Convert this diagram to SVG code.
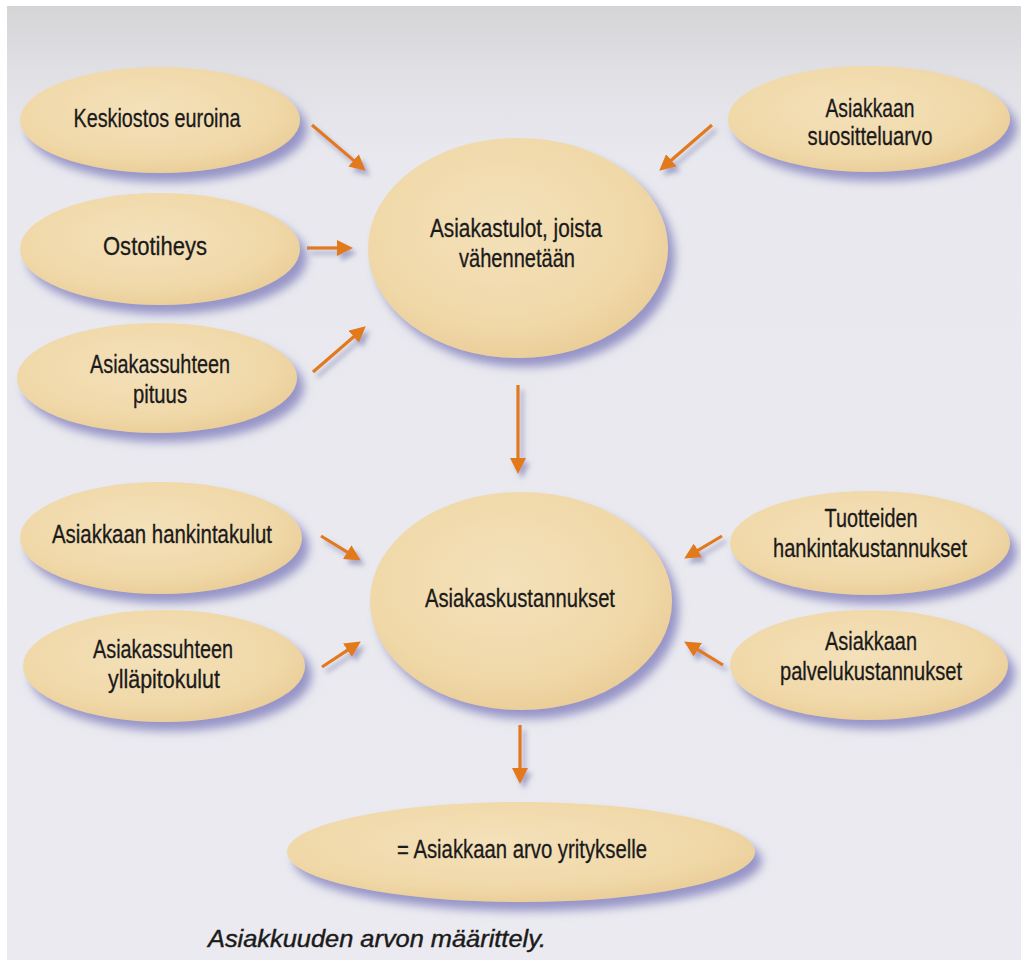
<svg xmlns="http://www.w3.org/2000/svg" width="1021" height="960" viewBox="0 0 1021 960">
  <defs>
    <linearGradient id="bg" x1="0" y1="0" x2="0" y2="1">
      <stop offset="0" stop-color="#d4d4d6"/>
      <stop offset="0.07" stop-color="#dfdfe4"/>
      <stop offset="0.16" stop-color="#e8e8ee"/>
      <stop offset="1" stop-color="#eaeaf0"/>
    </linearGradient>
    <radialGradient id="egg" cx="0.45" cy="0.4" r="0.65">
      <stop offset="0" stop-color="#f4e1ba"/>
      <stop offset="0.7" stop-color="#f0d8a8"/>
      <stop offset="1" stop-color="#e9cc96"/>
    </radialGradient>
    <filter id="shadow" x="-20%" y="-30%" width="145%" height="170%">
      <feDropShadow dx="7" dy="9" stdDeviation="5" flood-color="#8280bd" flood-opacity="0.8"/>
    </filter>
    <filter id="ashadow" x="-50%" y="-50%" width="200%" height="200%">
      <feDropShadow dx="4" dy="5" stdDeviation="2.5" flood-color="#7d7bb0" flood-opacity="0.6"/>
    </filter>
    <marker id="head" markerUnits="userSpaceOnUse" markerWidth="17" markerHeight="17" refX="2" refY="8" orient="auto">
      <path d="M0,0 L16,8 L0,16 z" fill="#e27a1c"/>
    </marker>
    <style>
      .node ellipse { fill: url(#egg); filter: url(#shadow); }
      .node text { font-family: "Liberation Sans Narrow", "Liberation Sans", Arial, sans-serif; font-size: 25px; fill: #1b1a1a; stroke: #1b1a1a; stroke-width: 0.3; text-anchor: middle; }
      .conn line { stroke: #e27a1c; stroke-width: 3.2; marker-end: url(#head); }
      .caption { font-family: "Liberation Sans", Arial, sans-serif; font-style: italic; font-size: 23px; fill: #1b1a1a; stroke: #1b1a1a; stroke-width: 0.4; }
    </style>
  </defs>

  <rect x="0" y="0" width="1021" height="960" fill="url(#bg)"/>
  <rect x="0" y="0" width="1021" height="6" fill="#ffffff"/>
  <rect x="0" y="0" width="7" height="960" fill="#ffffff"/>

  <g id="connectors" class="conn" filter="url(#ashadow)">
    <line x1="312" y1="125" x2="355.1" y2="161.6"/>
    <line x1="307" y1="248" x2="339" y2="248"/>
    <line x1="313" y1="372" x2="355.2" y2="335.5"/>
    <line x1="712" y1="125" x2="669.8" y2="161.5"/>
    <line x1="518" y1="385" x2="518" y2="460"/>
    <line x1="321" y1="536" x2="348.9" y2="553.2"/>
    <line x1="322" y1="667" x2="349.1" y2="649.1"/>
    <line x1="722" y1="536" x2="696.2" y2="551.4"/>
    <line x1="723" y1="665" x2="696.1" y2="648.7"/>
    <line x1="520" y1="725" x2="520" y2="770"/>
  </g>

  <g id="keskiostos" class="node">
    <ellipse cx="160" cy="120" rx="140" ry="53"/>
    <text x="157" y="127" textLength="167" lengthAdjust="spacingAndGlyphs">Keskiostos euroina</text>
  </g>
  <g id="ostotiheys" class="node">
    <ellipse cx="160" cy="249" rx="140" ry="56"/>
    <text x="155" y="255" textLength="104" lengthAdjust="spacingAndGlyphs">Ostotiheys</text>
  </g>
  <g id="pituus" class="node">
    <ellipse cx="157" cy="378" rx="140" ry="55"/>
    <text x="160" y="373" textLength="140" lengthAdjust="spacingAndGlyphs">Asiakassuhteen</text>
    <text x="160" y="403" textLength="54" lengthAdjust="spacingAndGlyphs">pituus</text>
  </g>
  <g id="asiakastulot" class="node">
    <ellipse cx="518" cy="248" rx="150" ry="110"/>
    <text x="516" y="237" textLength="172" lengthAdjust="spacingAndGlyphs">Asiakastulot, joista</text>
    <text x="517" y="267" textLength="116" lengthAdjust="spacingAndGlyphs">vähennetään</text>
  </g>
  <g id="suositteluarvo" class="node">
    <ellipse cx="869" cy="119" rx="141" ry="53"/>
    <text x="870" y="117" textLength="89" lengthAdjust="spacingAndGlyphs">Asiakkaan</text>
    <text x="870" y="145" textLength="125" lengthAdjust="spacingAndGlyphs">suositteluarvo</text>
  </g>
  <g id="hankintakulut" class="node">
    <ellipse cx="161" cy="538" rx="141" ry="56"/>
    <text x="162" y="543" textLength="220" lengthAdjust="spacingAndGlyphs">Asiakkaan hankintakulut</text>
  </g>
  <g id="yllapitokulut" class="node">
    <ellipse cx="164" cy="666" rx="141" ry="56"/>
    <text x="163" y="658" textLength="140" lengthAdjust="spacingAndGlyphs">Asiakassuhteen</text>
    <text x="164" y="688" textLength="112" lengthAdjust="spacingAndGlyphs">ylläpitokulut</text>
  </g>
  <g id="asiakaskustannukset" class="node">
    <ellipse cx="521" cy="601" rx="151" ry="109"/>
    <text x="520" y="607" textLength="190" lengthAdjust="spacingAndGlyphs">Asiakaskustannukset</text>
  </g>
  <g id="tuotteiden" class="node">
    <ellipse cx="870" cy="543" rx="140" ry="52"/>
    <text x="871" y="527" textLength="93" lengthAdjust="spacingAndGlyphs">Tuotteiden</text>
    <text x="870" y="557" textLength="194" lengthAdjust="spacingAndGlyphs">hankintakustannukset</text>
  </g>
  <g id="palvelukustannukset" class="node">
    <ellipse cx="869" cy="665" rx="139" ry="55"/>
    <text x="871" y="650" textLength="92" lengthAdjust="spacingAndGlyphs">Asiakkaan</text>
    <text x="871" y="680" textLength="182" lengthAdjust="spacingAndGlyphs">palvelukustannukset</text>
  </g>
  <g id="arvo" class="node">
    <ellipse cx="521" cy="852" rx="234" ry="50"/>
    <text x="522" y="858" textLength="250" lengthAdjust="spacingAndGlyphs">= Asiakkaan arvo yritykselle</text>
  </g>

  <text class="caption" x="208" y="947" textLength="338" lengthAdjust="spacingAndGlyphs">Asiakkuuden arvon määrittely.</text>
</svg>
